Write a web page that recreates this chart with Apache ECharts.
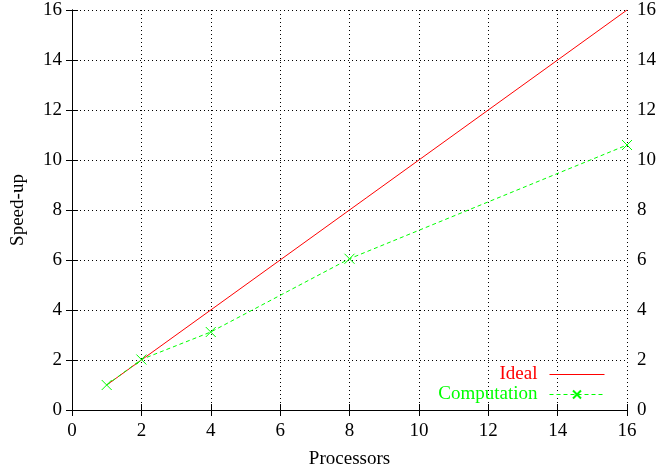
<!DOCTYPE html>
<html><head><meta charset="utf-8">
<script src="https://cdn.jsdelivr.net/npm/echarts@6/dist/echarts.min.js"></script>
<style>html,body{margin:0;padding:0;background:#fff}#c{width:656px;height:471px}</style>
</head><body><div id="c"></div>
<script>
var xTicks = [0,2,4,6,8,10,12,14,16];
var yTicks = [0,2,4,6,8,10,12,14,16];
var idealX = [1,16];
var idealY = [1,16];
var compX = [1,2,4,8,16];
var compY = [1.0,2.02,3.12,6.05,10.6];
var seriesNames = ['Ideal','Computation'];

var font = 'Liberation Serif';
var FS = 19;
var chart = echarts.init(document.getElementById('c'), null, {renderer:'canvas'});
function axisBase(extra){
  return Object.assign({
    type:'value', min:0, max:16, interval:2,
    axisLine:{show:true,lineStyle:{color:'#000',width:1}},
    axisTick:{show:true,inside:true,length:6,lineStyle:{color:'#000'}},
    splitLine:{show:false},
    axisLabel:{show:true,color:'#000',fontFamily:font,fontSize:FS}
  }, extra);
}
var cross = 'path://M0,0L10,10M10,0L0,10';
chart.setOption({
  animation:false,
  backgroundColor:'#fff',
  grid:{left:72,right:29,top:10,bottom:61,containLabel:false,outerBoundsMode:'none'},
  xAxis:[
    axisBase({position:'bottom',name:'Processors',nameLocation:'middle',nameGap:40,
      nameTextStyle:{color:'#000',fontFamily:font,fontSize:FS},
      axisLabel:{color:'#000',fontFamily:font,fontSize:FS,margin:12},
      splitLine:{show:true,lineStyle:{color:'#000',type:[1,3],width:1}}}),
    axisBase({position:'top',axisLabel:{show:false}})
  ],
  yAxis:[
    axisBase({position:'left',name:'Speed-up',nameLocation:'middle',nameGap:44,nameRotate:90,
      nameTextStyle:{color:'#000',fontFamily:font,fontSize:FS},
      axisLabel:{color:'#000',fontFamily:font,fontSize:FS,margin:10},
      splitLine:{show:true,lineStyle:{color:'#000',type:[1,3],width:1}}}),
    axisBase({position:'right',axisLabel:{color:'#000',fontFamily:font,fontSize:FS,margin:10,align:'left'}})
  ],
  legend:{
    orient:'vertical', right:46, top:360, align:'right',
    itemWidth:55, itemHeight:10, itemGap:1,
    lineStyle:{width:1},
    textStyle:{fontFamily:font,fontSize:FS,padding:[0,7,0,0]},
    data:[
      {name:seriesNames[0], textStyle:{color:'#ff0000'}, itemStyle:{opacity:0}},
      {name:seriesNames[1], textStyle:{color:'#00ff00'}}
    ]
  },
  series:[
    {name:seriesNames[0], type:'line', symbol:'none', color:'#ff0000',
     lineStyle:{color:'#ff0000',width:1},
     data: idealX.map(function(x,i){return [x,idealY[i]];}), z:2},
    {name:seriesNames[1], type:'line', symbol:cross, symbolSize:10, color:'#00ff00',
     itemStyle:{color:'none',borderColor:'#00ff00',borderWidth:1},
     lineStyle:{color:'#00ff00',width:1,type:[4,3]},
     data: compX.map(function(x,i){return [x,compY[i]];}), z:3}
  ]
});
</script></body></html>
